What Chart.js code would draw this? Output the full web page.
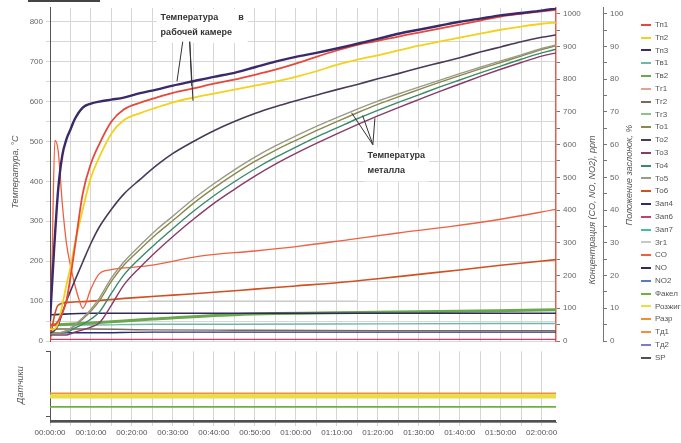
<!DOCTYPE html>
<html>
<head>
<meta charset="utf-8">
<script src="https://cdn.jsdelivr.net/npm/chart.js@4"></script>
<style>
body { margin: 0; background: #fff; width: 681px; height: 443px; overflow: hidden; position: relative; font-family: "Liberation Sans", Arial, sans-serif; }
#topChart { position: absolute; left: 0; top: 0; }
#bottomChart { position: absolute; left: 0; top: 341px; }
#legend { position: absolute; left: 641px; top: 19px; font-size: 8px; color: #555; }
#legend div { height: 12.8px; line-height: 12.8px; white-space: nowrap; }
#legend span { display: inline-block; width: 10px; height: 2px; vertical-align: middle; margin-right: 4px; }
#bar { position: absolute; left: 28px; top: 0; width: 72px; height: 2px; background: #444; }
</style>
</head>
<body>
<div id="bar"></div>
<canvas id="topChart" width="681" height="443"></canvas>
<canvas id="bottomChart" width="681" height="102"></canvas>
<div id="legend"></div>
<script>
// time, minutes from start
const T_MAX = 123.5;
const tickMinutes = [0, 5, 10, 15, 20, 25, 30, 35, 40, 45, 50, 55, 60, 65, 70, 75, 80, 85, 90, 95, 100, 105, 110, 115, 120];
const timeMin = [0, 1, 2, 3, 4, 5, 6, 8, 10, 12, 15, 18, 22, 26, 30, 35, 40, 45, 50, 55, 60, 65, 70, 75, 80, 85, 90, 95, 100, 105, 110, 115, 120, 123.5];

// furnace (working chamber) temperatures, °C
const tp1 = [40, 40, 50, 70, 100, 160, 230, 370, 445, 493, 550, 580, 597, 610, 622, 633, 645, 655, 667, 680, 695, 712, 728, 742, 752, 763, 773, 783, 793, 803, 813, 820, 826, 830];
const tp2 = [30, 30, 45, 90, 140, 185, 240, 330, 410, 460, 520, 553, 571, 585, 598, 610, 620, 630, 640, 650, 662, 676, 692, 705, 716, 728, 740, 750, 760, 770, 780, 788, 795, 798];
const tp3 = [50, 230, 380, 465, 505, 530, 555, 585, 595, 600, 605, 610, 621, 630, 640, 651, 662, 672, 686, 700, 712, 722, 733, 745, 757, 770, 780, 790, 800, 808, 816, 822, 828, 833];

// metal temperatures, °C
const to2 = [20, 25, 40, 70, 100, 125, 150, 198, 245, 285, 330, 368, 405, 440, 470, 500, 527, 550, 570, 587, 602, 616, 630, 643, 657, 670, 684, 697, 710, 724, 737, 750, 761, 767];
const to5 = [20, 20, 20, 22, 26, 32, 40, 58, 80, 107, 158, 198, 240, 279, 313, 356, 394, 429, 461, 489, 514, 538, 560, 581, 601, 619, 636, 653, 670, 686, 702, 717, 733, 742];
const to1 = [20, 20, 20, 22, 25, 30, 38, 55, 75, 100, 150, 190, 230, 268, 302, 345, 383, 418, 450, 478, 503, 527, 550, 572, 593, 612, 630, 648, 665, 682, 698, 714, 730, 740];
const to4 = [18, 18, 18, 20, 22, 26, 32, 42, 55, 72, 120, 165, 208, 246, 282, 325, 364, 399, 431, 460, 486, 511, 534, 557, 578, 598, 617, 636, 654, 672, 689, 706, 722, 731];
const to3 = [15, 15, 15, 15, 15, 18, 22, 28, 35, 45, 90, 140, 185, 225, 262, 305, 345, 380, 413, 443, 470, 495, 519, 542, 564, 585, 605, 625, 644, 663, 681, 698, 714, 722];

// To6, °C
const to6Time = [0, 1, 2, 5, 10, 20, 30, 40, 50, 60, 70, 80, 90, 100, 110, 123.5];
const to6 = [0, 60, 90, 97, 100, 108, 115, 122, 130, 138, 146, 156, 167, 178, 190, 204];

// CO, ppm
const coTime = [0, 0.5, 1.2, 2, 3, 4, 5, 6, 7, 8, 10, 12, 15, 20, 25, 37, 50, 61, 73, 85, 98, 110, 123.5];
const co = [20, 250, 613, 580, 420, 300, 230, 175, 130, 100, 160, 205, 218, 225, 232, 260, 275, 290, 310, 330, 350, 372, 402];

// low, nearly flat signals
const lowTime = [0, 10, 25, 45, 80, 123.5];
const tv2 = [40, 45, 55, 66, 72, 78];
const tv1 = [40, 40, 42, 42, 43, 44];
const tg2 = [30, 30, 28, 27, 26, 26];
const no = [80, 85, 85, 85, 85, 85];      // ppm
const zap4 = [2.5, 2.5, 2.7, 2.7, 2.7, 2.7]; // %
const zap6 = [0.5, 0.5, 0.5, 0.5, 0.5, 0.5]; // %
const zg1Time = [24, 75];
const zg1 = [100, 100];

// sensors panel
const sensTime = [0, 123.5];
const razr = [4.05, 4.05];
const rozhig = [3.6, 3.6];
const fakel = [2.15, 2.15];
const sp = [0.15, 0.15];

const legendNames = ['Тп1', 'Тп2', 'Тп3', 'Тв1', 'Тв2', 'Тг1', 'Тг2', 'Тг3', 'То1', 'То2', 'То3', 'То4', 'То5', 'То6', 'Зап4', 'Зап6', 'Зап7', 'Зг1', 'CO', 'NO', 'NO2', 'Факел', 'Розжиг', 'Разр', 'Тд1', 'Тд2', 'SP'];
const legendColors = ['#e8483a', '#f2d21a', '#3a2a6a', '#6fb8a8', '#6aa84f', '#e8a090', '#7a6a5a', '#8fbf8f', '#8a8a4a', '#4a3a5a', '#8a3a6a', '#3a8a6a', '#9a9a8a', '#d05020', '#2a2a7a', '#c04070', '#40c0a0', '#c8c8c8', '#f06040', '#302a5a', '#5a7ac8', '#70b040', '#e8e040', '#f09030', '#f09040', '#7a7ad0', '#505050'];

const colorOf = name => legendColors[legendNames.indexOf(name)];
const pts = (xs, ys) => xs.map((x, i) => ({ x: x, y: ys[i] }));
const pad = n => String(n).padStart(2, '0');
const fmtTime = v => pad(Math.floor(v / 60)) + ':' + pad(v % 60) + ':00';

function line(name, xs, ys, axis, width) {
    return {
        label: name,
        data: pts(xs, ys),
        yAxisID: axis || 'y',
        borderColor: colorOf(name),
        borderWidth: width || 1.4
    };
}

// legend
document.getElementById('legend').innerHTML = legendNames
    .map((n, i) => `<div><span style="background:${legendColors[i]}"></span>${n}</div>`)
    .join('');

function vText(ctx, text, x, y) {
    ctx.save();
    ctx.translate(x, y);
    ctx.rotate(-Math.PI / 2);
    ctx.textAlign = 'center';
    ctx.textBaseline = 'middle';
    ctx.fillText(text, 0, 0);
    ctx.restore();
}

// annotation: text lines + leader lines pointing at curves (data coordinates)
const notes = [
    { lines: ['Температура        в', 'рабочей камере'], at: [27, 822], from: [[32.4, 750], [34.1, 750]],
      to: [[31, 651], [34.6, 639], [34.9, 602]] },
    { lines: ['Температура', 'металла'], at: [77.5, 475], from: [[78.8, 492], [78.8, 492]],
      to: [[73.6, 572], [76.3, 565], [79.3, 558]] }
];

const overlay = {
    id: 'overlay',
    afterDraw(chart) {
        const { ctx } = chart;
        const x = chart.scales.x, y = chart.scales.y;
        ctx.save();
        notes.forEach(n => {
            const px = x.getPixelForValue(n.at[0]);
            const py = y.getPixelForValue(n.at[1]);
            ctx.font = 'bold 9px "Liberation Sans", Arial, sans-serif';
            const w = Math.max(...n.lines.map(l => ctx.measureText(l).width));
            ctx.fillStyle = '#fff';
            ctx.fillRect(px - 4, py - 4, w + 8, n.lines.length * 15 + 4);
            ctx.fillStyle = '#333';
            ctx.textBaseline = 'top';
            n.lines.forEach((l, i) => ctx.fillText(l, px, py + i * 15));
            ctx.strokeStyle = '#333';
            ctx.lineWidth = 1;
            n.to.forEach((t, i) => {
                const f = n.from[Math.min(i, n.from.length - 1)];
                ctx.beginPath();
                ctx.moveTo(x.getPixelForValue(f[0]), y.getPixelForValue(f[1]));
                ctx.lineTo(x.getPixelForValue(t[0]), y.getPixelForValue(t[1]));
                ctx.stroke();
            });
        });
        // axis titles
        ctx.fillStyle = '#555';
        ctx.font = 'italic 9px "Liberation Sans", Arial, sans-serif';
        vText(ctx, 'Температура, °С', 15, 172);
        vText(ctx, 'Концентрация (CO, NO, NO2), ppm', chart.scales.yPpm.right - 11, 210);
        vText(ctx, 'Положение заслонок, %', chart.scales.yPct.right - 11, 175);
        ctx.restore();
    }
};

const tickFont = { size: 8, family: '"Liberation Sans Narrow", "Liberation Sans", Arial, sans-serif' };
const gridColor = '#d6d6d6';
const minuteTicks = s => { s.ticks = tickMinutes.map(v => ({ value: v })); };

new Chart(document.getElementById('topChart'), {
    type: 'line',
    data: {
        datasets: [
            line('Тп3', timeMin, tp3, 'y', 2.4),
            line('Тп1', timeMin, tp1, 'y', 1.8),
            line('Тп2', timeMin, tp2, 'y', 1.8),
            line('То2', timeMin, to2, 'y', 1.6),
            line('То5', timeMin, to5),
            line('То1', timeMin, to1),
            line('То4', timeMin, to4),
            line('То3', timeMin, to3),
            line('CO', coTime, co, 'yPpm', 1.3),
            line('То6', to6Time, to6, 'y', 1.6),
            line('Зг1', zg1Time, zg1),
            line('NO', lowTime, no, 'yPpm', 1.6),
            line('Тв2', lowTime, tv2, 'y', 3),
            line('Тв1', lowTime, tv1),
            line('Тг2', lowTime, tg2),
            line('Зап4', lowTime, zap4, 'yPct'),
            line('Зап6', lowTime, zap6, 'yPct')
        ]
    },
    options: {
        responsive: false,
        animation: false,
        layout: { padding: { left: 0, top: 4, right: 41, bottom: 102 } },
        plugins: { legend: { display: false }, tooltip: { enabled: false } },
        elements: { point: { radius: 0 }, line: { cubicInterpolationMode: 'monotone' } },
        scales: {
            x: {
                type: 'linear', min: 0, max: T_MAX,
                afterBuildTicks: minuteTicks,
                ticks: { display: false },
                grid: { color: gridColor, drawTicks: false },
                border: { display: false },
                afterFit: s => { s.height = 0; }
            },
            y: {
                position: 'left', min: 0, max: 835,
                ticks: { stepSize: 50, includeBounds: false, font: tickFont, color: '#666', padding: 3,
                         callback: v => (Math.round(v) % 100 === 0 ? Math.round(v) : '') },
                grid: { color: gridColor, tickLength: 4 },
                border: { color: '#555' },
                afterFit: s => { s.width = 50; }
            },
            yPpm: {
                position: 'right', min: 0, max: 1018,
                ticks: { stepSize: 50, includeBounds: false, font: tickFont, color: '#666', padding: 3,
                         callback: v => (Math.round(v) % 100 === 0 ? Math.round(v) : '') },
                grid: { drawOnChartArea: false, tickLength: 4, color: '#777' },
                border: { color: '#e06050', width: 1.5 },
                afterFit: s => { s.width = 47; }
            },
            yPct: {
                position: 'right', min: 0, max: 101.8,
                ticks: { stepSize: 5, includeBounds: false, font: tickFont, color: '#666', padding: 3,
                         callback: v => (Math.round(v) % 10 === 0 ? Math.round(v) : '') },
                grid: { drawOnChartArea: false, tickLength: 4, color: '#777' },
                border: { color: '#777' },
                afterFit: s => { s.width = 37; }
            }
        }
    },
    plugins: [overlay]
});

const sensorTitle = {
    id: 'sensorTitle',
    afterDraw(chart) {
        const ctx = chart.ctx;
        ctx.save();
        ctx.fillStyle = '#555';
        ctx.font = 'italic 9px "Liberation Sans", Arial, sans-serif';
        vText(ctx, 'Датчики', 20, 44);
        ctx.restore();
    }
};

new Chart(document.getElementById('bottomChart'), {
    type: 'line',
    data: {
        datasets: [
            line('Разр', sensTime, razr, 'y', 1.6),
            line('Розжиг', sensTime, rozhig, 'y', 4),
            line('Факел', sensTime, fakel, 'y', 1.8),
            line('SP', sensTime, sp, 'y', 2)
        ]
    },
    options: {
        responsive: false,
        animation: false,
        layout: { padding: { left: 0, top: 7, right: 125, bottom: 0 } },
        plugins: { legend: { display: false }, tooltip: { enabled: false } },
        elements: { point: { radius: 0 } },
        scales: {
            x: {
                type: 'linear', min: 0, max: T_MAX,
                afterBuildTicks: minuteTicks,
                ticks: { autoSkip: false, maxRotation: 0, font: tickFont, color: '#555', padding: 2,
                         callback: v => (Math.round(v) % 10 === 0 ? fmtTime(Math.round(v)) : '') },
                grid: { color: gridColor, tickLength: 4 },
                border: { color: '#888' },
                afterFit: s => { s.height = 21; }
            },
            y: {
                min: 0, max: 10,
                afterBuildTicks: s => { s.ticks = [{ value: 0.8 }, { value: 10 }]; },
                ticks: { callback: () => '' },
                grid: { drawOnChartArea: false, tickLength: 4, color: '#555' },
                border: { color: '#555' },
                afterFit: s => { s.width = 50; }
            }
        }
    },
    plugins: [sensorTitle]
});
</script>
</body>
</html>
